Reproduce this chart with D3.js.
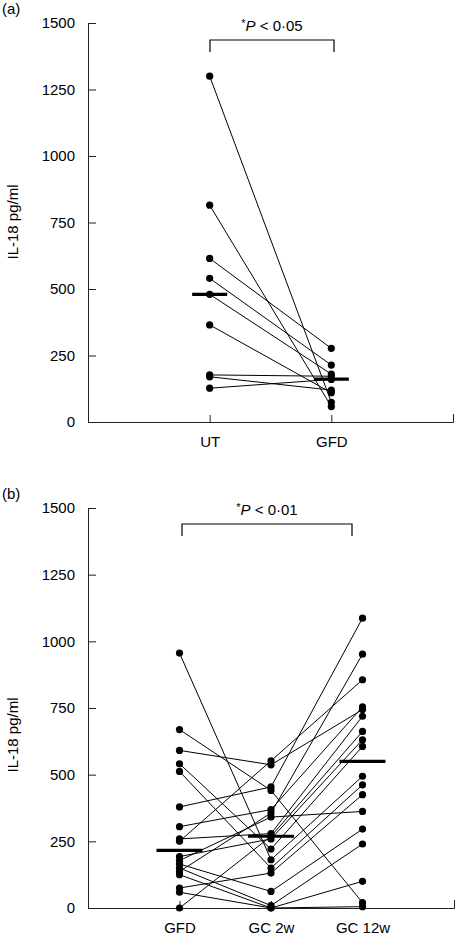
<!DOCTYPE html>
<html>
<head>
<meta charset="utf-8">
<script src="https://cdn.jsdelivr.net/npm/d3@7"></script>
<style>
  html, body { margin: 0; padding: 0; background: #fff; }
  svg { display: block; font-family: "Liberation Sans", Arial, Helvetica, sans-serif; }
</style>
</head>
<body>
<svg id="chart" width="456" height="936"></svg>
<script>
// ---------- data ----------
const yTicks = [0, 250, 500, 750, 1000, 1250, 1500];

// panel (a)
const catsA = ["UT", "GFD"];
const utA  = [1300, 815, 615, 540, 480, 365, 177, 170, 127];
const gfdA = [74, 58, 277, 214, 180, 110, 172, 120, 160];
const medA = [480, 161];
const pTextA = "0·05";

// panel (b)
const catsB = ["GFD", "GC 2w", "GC 12w"];
const gfdB  = [956, 669, 591, 541, 512, 379, 305, 259, 250, 193, 178, 165, 150, 137, 125, 75, 59, 0];
const gc2B  = [181, 441, 537, 221, 150, 454, 369, 279, 552, 259, 341, 62, 9, 356, 0, 131, 0, 269];
const gc12B = [494, 20, 744, 606, 462, 1087, 754, 719, 856, 631, 362, 296, 240, 952, 100, 425, 5, 662];
const medB = [216, 269, 550];
const pTextB = "0·01";

// ---------- drawing ----------
const svg = d3.select("#chart");
const FS = 15;

function panel(opts) {
  const { label, top, bottom, left, right, cats, series, meds, medW, pText, bracket, yLabelY } = opts;
  const y = d3.scaleLinear().domain([0, 1500]).range([bottom, top]);
  const x = d3.scalePoint().domain(cats).range([left, right]).padding(1);
  const g = svg.append("g");

  // panel label
  g.append("text").attr("x", 2).attr("y", top - 9).attr("font-size", FS).text(label);

  // y axis (ticks inward)
  const ya = g.append("g").attr("transform", `translate(${left},0)`)
    .call(d3.axisLeft(y).tickValues(yTicks).tickFormat(d3.format("d")).tickSize(-8).tickSizeOuter(0).tickPadding(13));
  ya.selectAll("text").attr("font-size", FS).attr("font-family", null).attr("fill", "#000");
  ya.selectAll("line, path").attr("stroke", "#222");

  // x axis (ticks inward)
  const xa = g.append("g").attr("transform", `translate(0,${bottom})`)
    .call(d3.axisBottom(x).tickSize(-7).tickSizeOuter(-8).tickPadding(14));
  xa.selectAll("text").attr("font-size", FS).attr("font-family", null).attr("fill", "#000").attr("dy", "0.71em");
  xa.selectAll("line, path").attr("stroke", "#222");

  // y label
  g.append("text")
    .attr("transform", `translate(18,${yLabelY}) rotate(-90)`)
    .attr("text-anchor", "middle").attr("font-size", FS)
    .text("IL-18 pg/ml");

  // connecting lines
  const n = series[0].length;
  const subjects = d3.range(n).map(i => series.map((s, k) => [x(cats[k]), y(s[i])]));
  g.append("g").selectAll("path").data(subjects).join("path")
    .attr("d", d3.line())
    .attr("fill", "none").attr("stroke", "#000").attr("stroke-width", 1);

  // dots
  const dots = [];
  series.forEach((s, k) => s.forEach(v => dots.push([x(cats[k]), y(v)])));
  g.append("g").selectAll("circle").data(dots).join("circle")
    .attr("cx", d => d[0]).attr("cy", d => d[1]).attr("r", 3.6).attr("fill", "#000");

  // median bars
  g.append("g").selectAll("line").data(meds).join("line")
    .attr("x1", (d, k) => x(cats[k]) - medW / 2)
    .attr("x2", (d, k) => x(cats[k]) + medW / 2)
    .attr("y1", d => y(d)).attr("y2", d => y(d))
    .attr("stroke", "#000").attr("stroke-width", 3.2);

  // significance bracket
  const [bx1, bx2, by, bh] = bracket;
  g.append("path")
    .attr("d", `M${bx1},${by + bh}V${by}H${bx2}V${by + bh}`)
    .attr("fill", "none").attr("stroke", "#000").attr("stroke-width", 1.2);
  const t = g.append("text").attr("x", (bx1 + bx2) / 2).attr("y", by - 9)
    .attr("text-anchor", "middle").attr("font-size", FS);
  t.append("tspan").attr("font-size", 11).attr("dy", -4).text("*");
  t.append("tspan").attr("font-style", "italic").attr("dy", 4).text("P");
  t.append("tspan").text(" < " + pText);
}

panel({
  label: "(a)", top: 23, bottom: 422, left: 88, right: 453,
  cats: catsA, series: [utA, gfdA], meds: medA, medW: 35,
  pText: pTextA, bracket: [210, 334, 40, 12], yLabelY: 222
});

panel({
  label: "(b)", top: 508, bottom: 908, left: 88, right: 454,
  cats: catsB, series: [gfdB, gc2B, gc12B], meds: medB, medW: 46,
  pText: pTextB, bracket: [182, 352, 524, 12], yLabelY: 735
});
</script>
</body>
</html>
